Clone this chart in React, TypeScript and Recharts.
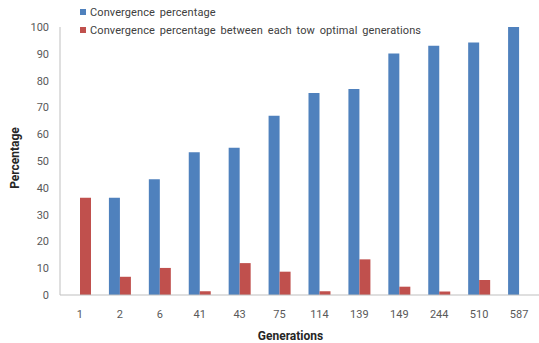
import React from "react";
import { BarChart, Bar, XAxis, YAxis, Label } from "recharts";

const generations = ["1", "2", "6", "41", "43", "75", "114", "139", "149", "244", "510", "587"];
const convergence = [0, 36.3, 43.2, 53.3, 54.9, 66.9, 75.4, 76.9, 90.1, 93.0, 94.2, 100];
const convergenceBetween = [36.3, 6.8, 10.1, 1.4, 11.9, 8.7, 1.4, 13.3, 3.1, 1.3, 5.6, 0];
const yTicks = [0, 10, 20, 30, 40, 50, 60, 70, 80, 90, 100];

const BLUE = "#4F81BD";
const RED = "#C0504D";
const FONT = "Roboto, 'Open Sans', sans-serif";

const data = generations.map((g, i) => ({
    gen: g,
    conv: convergence[i],
    between: convergenceBetween[i],
}));

const legendItems = [
    { label: "Convergence percentage", color: BLUE },
    { label: "Convergence percentage between each tow optimal generations", color: RED },
];

// legend sits over the top-left of the plot, like the spreadsheet original
function LegendBox() {
    return (
        <div style={{ position: "absolute", left: 80, top: 3, fontFamily: FONT, fontSize: 11, color: "#404040" }}>
            {legendItems.map((item) => (
                <div key={item.label} style={{ display: "flex", alignItems: "center", height: 18 }}>
                    <span style={{ width: 6, height: 6, background: item.color, marginRight: 4, display: "inline-block" }} />
                    <span style={{ wordSpacing: 2, letterSpacing: 0.1 }}>{item.label}</span>
                </div>
            ))}
        </div>
    );
}

export default function App() {
    return (
        <div style={{ position: "absolute", left: 0, top: 0, width: 539, height: 343, background: "#fff" }}>
            <BarChart
                width={539}
                height={343}
                data={data}
                margin={{ top: 27, right: 0, bottom: 0, left: 0 }}
                barGap={0}
                barSize={11}
            >
                <XAxis
                    dataKey="gen"
                    axisLine={{ stroke: "#BFBFBF" }}
                    tickLine={false}
                    tickMargin={9}
                    height={48}
                    tick={{ fill: "#595959", fontSize: 11, fontFamily: FONT }}
                >
                    <Label
                        value="Generations"
                        position="insideBottom"
                        offset={3}
                        dx={-9}
                        style={{ fill: "#262626", fontSize: 12, fontWeight: 700, fontFamily: FONT }}
                    />
                </XAxis>
                <YAxis
                    width={60}
                    domain={[0, 100]}
                    ticks={yTicks}
                    interval={0}
                    axisLine={{ stroke: "#BFBFBF" }}
                    tickLine={false}
                    tickMargin={5}
                    tick={{ fill: "#595959", fontSize: 11, fontFamily: FONT }}
                >
                    <Label
                        value="Percentage"
                        angle={-90}
                        position="insideLeft"
                        offset={15}
                        dy={-3}
                        style={{ fill: "#262626", fontSize: 12, fontWeight: 700, fontFamily: FONT, textAnchor: "middle" }}
                    />
                </YAxis>
                <Bar dataKey="conv" name="Convergence percentage" fill={BLUE} isAnimationActive={false} />
                <Bar
                    dataKey="between"
                    name="Convergence percentage between each tow optimal generations"
                    fill={RED}
                    isAnimationActive={false}
                />
            </BarChart>
            <LegendBox />
        </div>
    );
}
